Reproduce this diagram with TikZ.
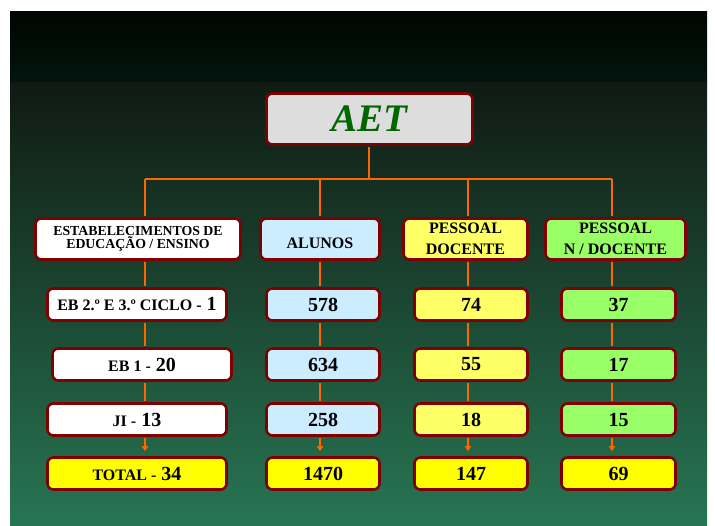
\documentclass[tikz,border=0pt]{standalone}
\usepackage{fontspec}
\setmainfont{Liberation Serif}
\usetikzlibrary{arrows.meta}

\definecolor{borda}{HTML}{800000}
\definecolor{laranja}{HTML}{FF6600}
\definecolor{cinza}{HTML}{DDDDDD}
\definecolor{azul}{HTML}{CCECFF}
\definecolor{amarelo}{HTML}{FFFF66}
\definecolor{verde}{HTML}{99FF66}
\definecolor{total}{HTML}{FFFF00}
\definecolor{verdeaet}{HTML}{006600}

\newcommand{\txt}[1]{{\fontsize{16}{16}\selectfont #1}}

\begin{document}
\begin{tikzpicture}[x=1pt,y=-1pt,
    caixa/.style={draw=borda, line width=2.6pt, rounded corners=6pt, inner sep=0pt,
      align=center, font=\bfseries\fontsize{20}{20}\selectfont},
    cab/.style={caixa, minimum height=41pt},
    lin/.style={caixa, minimum height=32pt},
    liga/.style={draw=laranja, line width=2pt, shorten <=1.3pt, shorten >=1.3pt},
    seta/.style={liga, -{Triangle[length=5pt,width=6pt]}, shorten >=5pt}]
  \useasboundingbox (0,0) rectangle (715,525);
  % fundo
  \shade[top color={rgb,255:red,0;green,6;blue,0}, bottom color={rgb,255:red,3;green,20;blue,14}]
    (10,11) rectangle (707,82);
  \shade[top color={rgb,255:red,16;green,26;blue,18}, bottom color={rgb,255:red,39;green,117;blue,83}]
    (10,82) rectangle (707,525);

  % topo
  \node[caixa, fill=cinza, minimum width=206pt, minimum height=51pt,
    font=\bfseries\itshape\fontsize{39}{39}\selectfont, text=verdeaet] (aet) at (369.5,119) {AET};

  % cabecalhos
  \node[cab, fill=white, minimum width=205pt, font=\bfseries\fontsize{13.8}{13}\selectfont]
    (h1) at (138,239) {ESTABELECIMENTOS DE\\EDUCAÇÃO / ENSINO};
  \node[cab, fill=azul, minimum width=119pt, font=\bfseries\fontsize{16}{21}\selectfont,
    text height=20pt] (h2) at (320,239) {ALUNOS};
  \node[cab, fill=amarelo, minimum width=124pt, font=\bfseries\fontsize{16}{21}\selectfont]
    (h3) at (465.5,239) {PESSOAL\\DOCENTE};
  \node[cab, fill=verde, minimum width=140pt, font=\bfseries\fontsize{16}{21}\selectfont]
    (h4) at (615.5,239) {PESSOAL\\N / DOCENTE};

  % estabelecimentos
  \node[lin, fill=white, minimum width=179pt] (e1) at (137,304.5) {\txt{EB 2.º E 3.º CICLO -} 1};
  \node[lin, fill=white, minimum width=179pt] (e2) at (142,364.5) {\txt{EB 1 -} 20};
  \node[lin, fill=white, minimum width=179pt] (e3) at (137,419.5) {\txt{JI -} 13};
  \node[lin, fill=total, minimum width=179pt] (e4) at (137,473.5) {\txt{TOTAL -} 34};

  % alunos
  \node[lin, fill=azul, minimum width=113pt] (a1) at (323,304.5) {578};
  \node[lin, fill=azul, minimum width=113pt] (a2) at (323,364.5) {634};
  \node[lin, fill=azul, minimum width=113pt] (a3) at (323,419.5) {258};
  \node[lin, fill=total, minimum width=113pt] (a4) at (323,473.5) {1470};

  % pessoal docente
  \node[lin, fill=amarelo, minimum width=113pt] (d1) at (471,304.5) {74};
  \node[lin, fill=amarelo, minimum width=113pt] (d2) at (471,364.5) {55};
  \node[lin, fill=amarelo, minimum width=113pt] (d3) at (471,419.5) {18};
  \node[lin, fill=total, minimum width=113pt] (d4) at (471,473.5) {147};

  % pessoal nao docente
  \node[lin, fill=verde, minimum width=114pt] (n1) at (618.5,304.5) {37};
  \node[lin, fill=verde, minimum width=114pt] (n2) at (618.5,364.5) {17};
  \node[lin, fill=verde, minimum width=114pt] (n3) at (618.5,419.5) {15};
  \node[lin, fill=total, minimum width=114pt] (n4) at (618.5,473.5) {69};

  % ligacoes
  \coordinate (k1) at (145,179);
  \coordinate (k2) at (320,179);
  \coordinate (k3) at (468,179);
  \coordinate (k4) at (612,179);
  \draw[liga, shorten >=0pt] (aet.south -| 369,0) -- (369,179);
  \draw[draw=laranja, line width=2pt] (k1) -- (k4);
  \draw[liga, shorten <=0pt] (k1) -- (k1 |- h1.north);
  \draw[liga, shorten <=0pt] (k2) -- (k2 |- h2.north);
  \draw[liga, shorten <=0pt] (k3) -- (k3 |- h3.north);
  \draw[liga, shorten <=0pt] (k4) -- (k4 |- h4.north);

  \draw[liga] (h1.south -| k1) -- (e1.north -| k1);
  \draw[liga] (e1.south -| k1) -- (e2.north -| k1);
  \draw[liga] (e2.south -| k1) -- (e3.north -| k1);
  \draw[seta] (e3.south -| k1) -- (e4.north -| k1);

  \draw[liga] (h2.south -| k2) -- (a1.north -| k2);
  \draw[liga] (a1.south -| k2) -- (a2.north -| k2);
  \draw[liga] (a2.south -| k2) -- (a3.north -| k2);
  \draw[seta] (a3.south -| k2) -- (a4.north -| k2);

  \draw[liga] (h3.south -| k3) -- (d1.north -| k3);
  \draw[liga] (d1.south -| k3) -- (d2.north -| k3);
  \draw[liga] (d2.south -| k3) -- (d3.north -| k3);
  \draw[seta] (d3.south -| k3) -- (d4.north -| k3);

  \draw[liga] (h4.south -| k4) -- (n1.north -| k4);
  \draw[liga] (n1.south -| k4) -- (n2.north -| k4);
  \draw[liga] (n2.south -| k4) -- (n3.north -| k4);
  \draw[seta] (n3.south -| k4) -- (n4.north -| k4);
\end{tikzpicture}
\end{document}
